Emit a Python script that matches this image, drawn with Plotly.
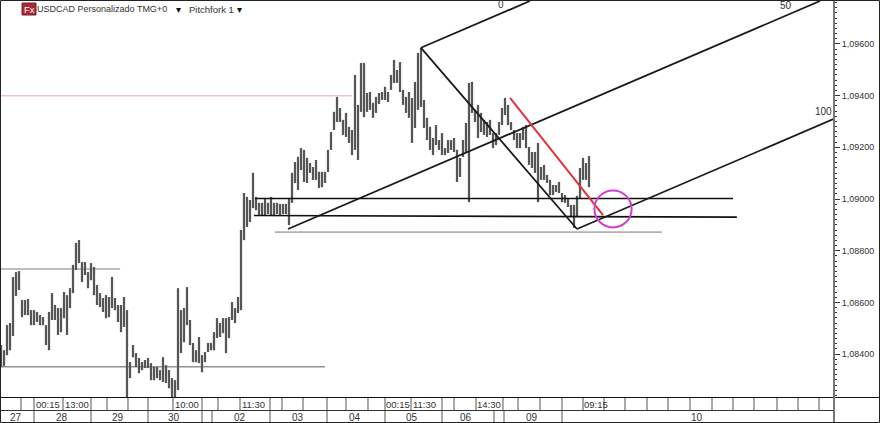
import plotly.graph_objects as go

highs = [1.08435,1.08415,1.08512,1.08520,1.08698,1.08717,1.08721,1.08609,1.08609,1.08613,1.08570,1.08570,1.08563,1.08551,1.08543,1.08512,1.08563,1.08636,1.08590,1.08578,
1.08578,1.08640,1.08628,1.08655,1.08745,1.08830,1.08841,1.08756,1.08756,1.08717,1.08752,1.08737,1.08667,1.08636,1.08617,1.08628,1.08621,1.08698,1.08617,1.08590,
1.08590,1.08621,1.08570,1.08369,1.08435,1.08404,1.08385,1.08369,1.08377,1.08385,1.08365,1.08350,1.08350,1.08338,1.08388,1.08357,1.08338,1.08307,1.08299,1.08655,
1.08570,1.08578,1.08659,1.08532,1.08443,1.08415,1.08466,1.08396,1.08408,1.08443,1.08443,1.08485,1.08539,1.08520,1.08539,1.08539,1.08543,1.08601,1.08578,1.08621,
1.08880,1.09023,1.09008,1.08996,1.09101,1.09008,1.08985,1.08985,1.09004,1.08985,1.09008,1.08985,1.08985,1.08981,1.08981,1.08981,1.09004,1.09101,1.09143,1.09163,
1.09197,1.09190,1.09159,1.09139,1.09124,1.09151,1.09105,1.09105,1.09105,1.09190,1.09259,1.09337,1.09395,1.09352,1.09306,1.09333,1.09279,1.09267,1.09480,1.09364,
1.09526,1.09526,1.09410,1.09414,1.09372,1.09395,1.09410,1.09414,1.09434,1.09414,1.09480,1.09538,1.09499,1.09530,1.09422,1.09395,1.09414,1.09391,1.09453,1.09565,
1.09585,1.09383,1.09314,1.09279,1.09236,1.09286,1.09228,1.09255,1.09197,1.09228,1.09228,1.09236,1.09190,1.09159,1.09228,1.09294,1.09449,1.09453,1.09345,1.09364,
1.09333,1.09306,1.09298,1.09306,1.09255,1.09255,1.09298,1.09352,1.09391,1.09364,1.09298,1.09267,1.09255,1.09255,1.09279,1.09286,1.09201,1.09182,1.09182,1.09217,
1.09124,1.09132,1.09093,1.09074,1.09054,1.09054,1.09066,1.09023,1.09015,1.09004,1.08977,1.08977,1.09012,1.09120,1.09159,1.09139,1.09166]
lows = [1.08350,1.08354,1.08396,1.08415,1.08470,1.08625,1.08648,1.08543,1.08551,1.08551,1.08512,1.08512,1.08524,1.08512,1.08512,1.08435,1.08415,1.08532,1.08532,1.08474,
1.08485,1.08539,1.08474,1.08578,1.08636,1.08725,1.08752,1.08679,1.08706,1.08655,1.08686,1.08628,1.08590,1.08582,1.08563,1.08539,1.08543,1.08578,1.08570,1.08524,
1.08485,1.08505,1.08234,1.08307,1.08388,1.08350,1.08326,1.08338,1.08346,1.08346,1.08299,1.08299,1.08307,1.08299,1.08292,1.08288,1.08268,1.08234,1.08234,1.08261,
1.08404,1.08446,1.08512,1.08435,1.08369,1.08369,1.08365,1.08330,1.08369,1.08408,1.08415,1.08415,1.08462,1.08466,1.08481,1.08404,1.08462,1.08532,1.08520,1.08559,
1.08570,1.08841,1.08892,1.08911,1.08965,1.08957,1.08938,1.08938,1.08938,1.08942,1.08938,1.08934,1.08942,1.08938,1.08942,1.08942,1.08899,1.08985,1.09062,1.09035,
1.09112,1.09066,1.09062,1.09101,1.09074,1.09074,1.09043,1.09046,1.09062,1.09105,1.09190,1.09267,1.09298,1.09298,1.09248,1.09240,1.09217,1.09170,1.09190,1.09151,
1.09337,1.09317,1.09337,1.09345,1.09314,1.09333,1.09368,1.09383,1.09383,1.09375,1.09422,1.09449,1.09449,1.09414,1.09364,1.09333,1.09314,1.09217,1.09275,1.09345,
1.09356,1.09275,1.09228,1.09190,1.09170,1.09209,1.09190,1.09170,1.09170,1.09178,1.09190,1.09182,1.09066,1.09085,1.09163,1.09178,1.08988,1.09333,1.09298,1.09236,
1.09259,1.09248,1.09240,1.09248,1.09197,1.09209,1.09248,1.09286,1.09325,1.09286,1.09267,1.09228,1.09197,1.09197,1.09228,1.09197,1.09132,1.09120,1.09101,1.08988,
1.09074,1.09074,1.09062,1.09015,1.09015,1.09027,1.09023,1.08988,1.08985,1.08969,1.08930,1.08888,1.08930,1.09004,1.09074,1.09074,1.09046]

y_ticks = [1.084, 1.086, 1.088, 1.090, 1.092, 1.094, 1.096]

fork_handle_x = [140.0, 192.0]
fork_handle_y = [1.09585, 1.08884]
fork_median_x = [95.67, 273.0]
fork_median_y = [1.08884, 1.09766]
fork_upper_x = [140.0, 176.3]
fork_upper_y = [1.09585, 1.09766]
fork_lower_x = [192.0, 277.67]
fork_lower_y = [1.08884, 1.09310]
red_x = [169.67, 200.67]
red_y = [1.09391, 1.08938]

level_pink = ([0, 117.0], [1.09399, 1.09399])
level_grey_a = ([0, 39.7], [1.08729, 1.08729])
level_grey_b = ([0, 108.0], [1.08351, 1.08351])
level_grey_c = ([91.3, 220.3], [1.08872, 1.08872])
level_black_a = ([84.7, 244.0], [1.09002, 1.09002])
level_black_b = ([84.3, 245.3], [1.08936, 1.08930])

circle_x = [197.8, 210.2]
circle_y = [1.08890, 1.09033]

time_ticks = [6.67,11,20.67,30,35.33,42.33,49,57.33,67,72.33,79.67,89.67,93.67,100.67,108.67,115,122.33,128,136.67,147,151,158.33,167.33,172.33,179.67,187,194,201,208,215.33,222.33,229.67,237,244,251,258.67,265.67,272.67]
day_ticks = [11,30,49,67,70.33,89.67,108.67,128,147,164.33,167.67,187]
time_labels = ["00:15","13:00","10:00","11:30","00:15","11:30","14:30","09:15"]
time_label_x = [15.67,25.33,62,84.33,132.33,141.33,162.67,198.33]
day_labels = ["27","28","29","30","02","03","04","05","06","09","10"]
day_label_x = [5,20.33,39,57.67,79.67,99,118,137,155,177,232]

W, H = 880, 423
L, R, T, B = 1, 46, 1, 26
PW, PH = W - L - R, H - T - B
def px(x): return (x - L) / PW
def py(y): return (H - B - y) / PH

fig = go.Figure()

sx, sy = [], []
for i, (h, l) in enumerate(zip(highs, lows)):
    sx += [i, i, None]
    sy += [h, l, None]

def line(x, y, color, width):
    fig.add_trace(go.Scatter(x=x, y=y, mode="lines", line=dict(color=color, width=width),
                             hoverinfo="skip", showlegend=False))

line(level_pink[0], level_pink[1], "#efc4c4", 1.5)
line(level_grey_a[0], level_grey_a[1], "#a8a8a8", 1.5)
line(level_grey_b[0], level_grey_b[1], "#909090", 1.3)
line(level_grey_c[0], level_grey_c[1], "#b0b0b0", 1.8)
line(sx, sy, "#8f8f8f", 2.4)
line(sx, sy, "#1c1c1c", 1.0)
line(level_black_a[0], level_black_a[1], "#111111", 1.6)
line(level_black_b[0], level_black_b[1], "#111111", 1.6)
line(fork_handle_x, fork_handle_y, "#1a1a1a", 1.8)
line(fork_median_x, fork_median_y, "#1a1a1a", 1.8)
line(fork_upper_x, fork_upper_y, "#1a1a1a", 1.8)
line(fork_lower_x, fork_lower_y, "#1a1a1a", 1.8)
line(red_x, red_y, "#e0343a", 2)

shapes = [
    dict(type="circle", xref="x", yref="y", x0=circle_x[0], x1=circle_x[1], y0=circle_y[0], y1=circle_y[1],
         line=dict(color="#cf3fd0", width=2)),
]
for t in time_ticks:
    shapes.append(dict(type="line", xref="x", yref="paper", x0=t, x1=t, y0=py(397), y1=py(410),
                       line=dict(color="#555555", width=1)))
for t in day_ticks:
    shapes.append(dict(type="line", xref="x", yref="paper", x0=t, x1=t, y0=py(410), y1=py(423),
                       line=dict(color="#555555", width=1)))
shapes += [
    dict(type="line", xref="paper", yref="paper", x0=px(0), x1=px(880), y0=py(397.5), y1=py(397.5), line=dict(color="#111111", width=1)),
    dict(type="line", xref="paper", yref="paper", x0=px(0), x1=px(834), y0=py(410.5), y1=py(410.5), line=dict(color="#333333", width=1)),
    dict(type="line", xref="paper", yref="paper", x0=px(834), x1=px(834), y0=py(0), y1=py(423), line=dict(color="#777777", width=2)),
    dict(type="rect", xref="paper", yref="paper", x0=px(0.5), x1=px(879.5), y0=py(0.5), y1=py(422.5), line=dict(color="#222222", width=1)),
    dict(type="rect", xref="paper", yref="paper", x0=px(22), x1=px(36), y0=py(15), y1=py(3),
         fillcolor="#a52a35", line=dict(color="#7a1f28", width=1)),
]

FONT = "Liberation Sans"
TC = "#333333"
ann = []
for t, x in zip(time_labels, time_label_x):
    ann.append(dict(text=t, x=x, xref="x", y=py(404), yref="paper", showarrow=False,
                    xanchor="center", yanchor="middle", font=dict(family=FONT, size=9.5, color=TC)))
for t, x in zip(day_labels, day_label_x):
    ann.append(dict(text=t, x=x, xref="x", y=py(417), yref="paper", showarrow=False,
                    xanchor="center", yanchor="middle", font=dict(family=FONT, size=10, color=TC)))
for t, x, y in [("0", 166.7, 1.09751), ("50", 261.7, 1.09747), ("100", 274.0, 1.09337)]:
    ann.append(dict(text=t, x=x, xref="x", y=y, yref="y", showarrow=False,
                    xanchor="center", yanchor="middle", font=dict(family=FONT, size=10, color=TC)))
for t, x, s, c in [("USDCAD Personalizado TMG+0", 35, 9, "#333333"), ("Pitchfork 1", 187, 9.5, "#333333"),
                   ("▾", 174, 10, "#111111"), ("▾", 235, 10, "#111111")]:
    ann.append(dict(text=t, x=px(x), xref="paper", y=py(9), yref="paper", showarrow=False,
                    xanchor="left", yanchor="middle", font=dict(family=FONT, size=s, color=c)))
ann.append(dict(text="Fx", x=px(29), xref="paper", y=py(9.5), yref="paper", showarrow=False,
                xanchor="center", yanchor="middle", font=dict(family=FONT, size=9.5, color="#ffffff")))

fig.update_layout(
    width=W, height=H, autosize=False,
    margin=dict(l=L, r=R, t=T, b=B, pad=0),
    plot_bgcolor="#ffffff", paper_bgcolor="#ffffff",
    separators=", ",
    hovermode=False,
    shapes=shapes, annotations=ann,
    xaxis=dict(range=[0, PW / 3], showgrid=False, zeroline=False, showticklabels=False,
               ticks="", showline=False, fixedrange=True),
    yaxis=dict(range=[1.08234, 1.09766], side="right", showgrid=False, zeroline=False,
               tickmode="array", tickvals=y_ticks, tickformat=".5f",
               ticks="outside", ticklen=5, tickwidth=1, tickcolor="#333333",
               minor=dict(dtick=0.0002, tick0=1.084, ticks="outside", ticklen=2, tickwidth=1, tickcolor="#333333"),
               tickfont=dict(family=FONT, size=9, color=TC),
               showline=False, fixedrange=True),
)
fig.write_html("out.html", config=dict(displayModeBar=False),
               post_script="document.body.style.margin='0';document.documentElement.style.overflow='hidden';")
